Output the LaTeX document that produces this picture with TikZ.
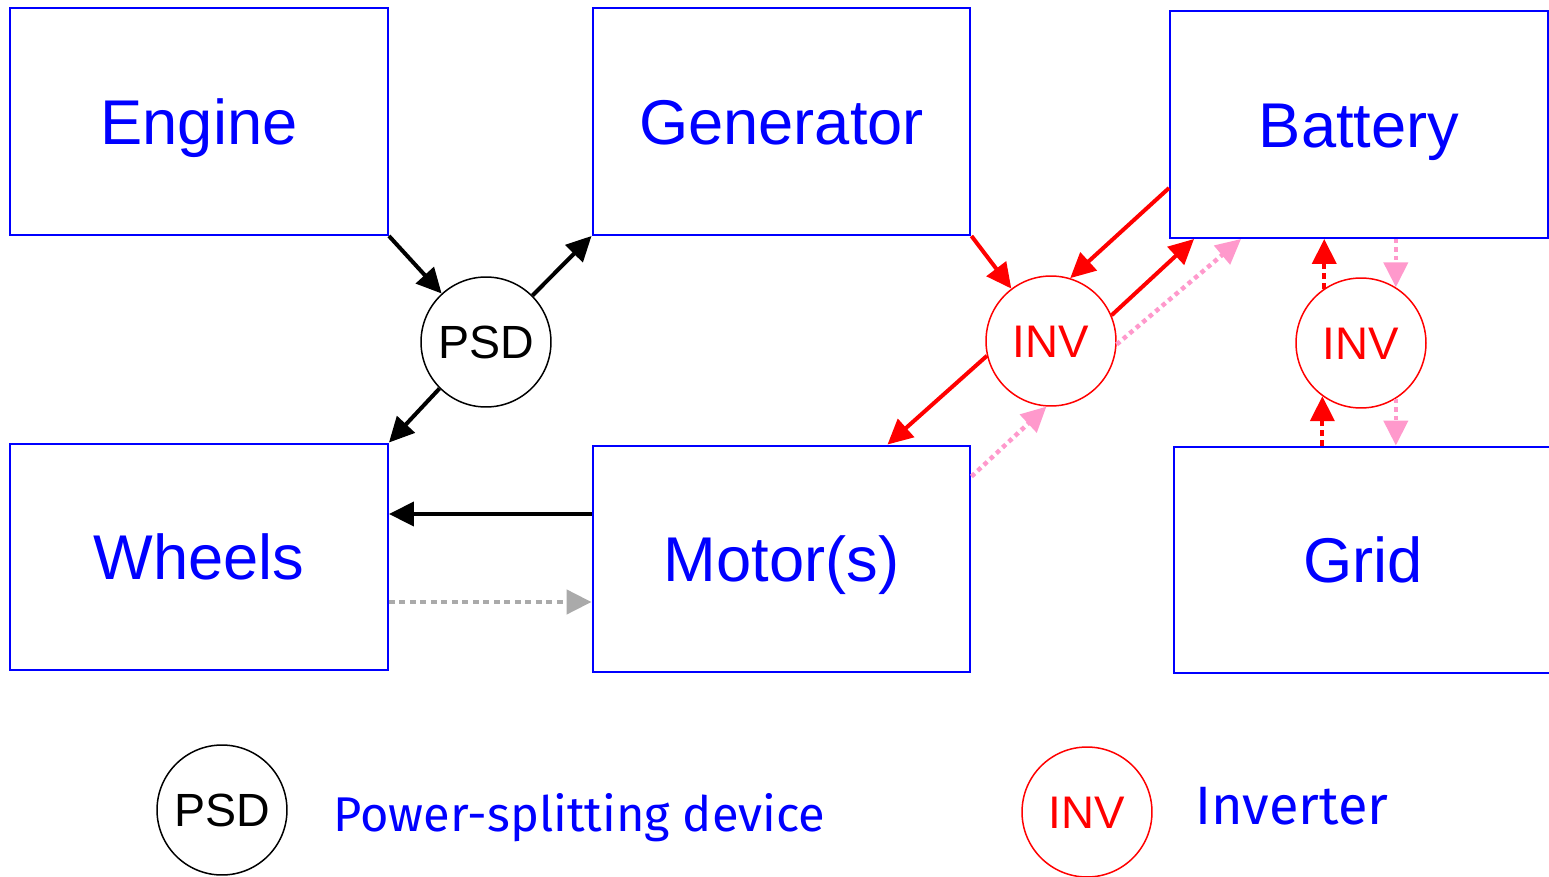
\documentclass[tikz,border=0pt]{standalone}
\usepackage{fontspec}
\setmainfont{Liberation Sans}
\newfontfamily\legendfont{Fira Sans}
\usetikzlibrary{arrows.meta,calc}
\definecolor{pblue}{RGB}{0,0,255}
\definecolor{pred}{RGB}{255,0,0}
\definecolor{ppink}{RGB}{255,153,204}
\definecolor{pgrey}{RGB}{170,170,170}
\tikzset{
  box/.style={draw=pblue, line width=0.04cm, text=pblue, minimum width=7.56cm, minimum height=4.54cm, inner sep=0pt, text height=25.8pt, text depth=0pt, font=\fontsize{36}{40}\selectfont},
  psdnode/.style={circle, draw=black, line width=0.03cm, minimum size=2.6cm, inner sep=0pt, text height=19pt, text depth=0pt, font=\fontsize{26.5}{30}\selectfont},
  invnode/.style={circle, draw=pred, line width=0.03cm, text=pred, minimum size=2.6cm, inner sep=0pt, text height=18.6pt, text depth=0pt, font=\fontsize{26}{30}\selectfont},
  flow/.style={line width=0.08cm, -{Triangle[length=0.5cm, width=0.48cm]}},
  blk/.style={flow, draw=black},
  redflow/.style={flow, draw=pred},
  reddot/.style={flow, draw=pred, dash pattern=on 0.12cm off 0.08cm},
  pinkdot/.style={flow, draw=ppink, line width=0.09cm, dash pattern=on 0.09cm off 0.08cm},
  greydot/.style={flow, draw=pgrey, line width=0.09cm, dash pattern=on 0.12cm off 0.09cm},
  legend/.style={text=pblue, inner sep=0pt, font=\legendfont\fontsize{28}{32}\selectfont}
}
\begin{document}
\begin{tikzpicture}[x=0.02cm, y=-0.02cm]
\useasboundingbox (0,0) rectangle (1549,876);
\node[box] (engine) at (199,121.5) {Engine};
\node[box] (gen) at (781.5,121.5) {Generator};
\node[box] (bat) at (1359,124.5) {Battery};
\node[box] (wheels) at (199,557) {Wheels};
\node[box] (motor) at (781.5,559) {Motor(s)};
\node[box] (grid) at (1363,560) {Grid};
\node[psdnode] (psd) at (486,342) {PSD};
\node[invnode] (inv1) at (1051,341) {INV};
\node[invnode] (inv2) at (1361,343) {INV};
% PSD connections
\draw[blk] (engine.south east) -- (psd);
\draw[blk] (psd.45) -- (gen.south west);
\draw[blk] (psd.225) -- (wheels.north east);
\draw[blk] ([yshift=0.9cm]motor.west) -- ([yshift=0.9cm]motor.west -| wheels.east);
\draw[greydot] ([yshift=-0.9cm]wheels.east) -- ([yshift=-0.9cm]wheels.east -| motor.west);
% INV1
\draw[redflow] (gen.south east) -- (inv1);
\draw[redflow] ([yshift=1.02cm]bat.south west) -- (inv1.73);
\draw[redflow] (inv1.23) -- ([xshift=0.5cm]bat.south west);
\draw[pinkdot] (inv1.-3) -- ([xshift=1.44cm]bat.south west);
\draw[redflow] (inv1.193) -- ([xshift=-1.68cm]motor.north east);
\draw[pinkdot] ([yshift=-0.64cm]motor.north east) -- (inv1.266);
% INV2
\draw[reddot] (inv2.124) -- (inv2.124 |- bat.south);
\draw[pinkdot] (inv2.58 |- bat.south) -- (inv2.58);
\draw[reddot] (inv2.234 |- grid.north) -- (inv2.234);
\draw[pinkdot] (inv2.302) -- (inv2.302 |- grid.north);
% legend
\node[psdnode] (lpsd) at (222,810) {PSD};
\node[legend, anchor=base west] (lpsdtext) at (333,831) {\resizebox{9.84cm}{!}{Power-splitting device}};
\node[invnode] (linv) at (1087,812) {INV};
\node[legend, anchor=base west] (linvtext) at (1195,824) {\resizebox{3.86cm}{!}{Inverter}};
\end{tikzpicture}
\end{document}
